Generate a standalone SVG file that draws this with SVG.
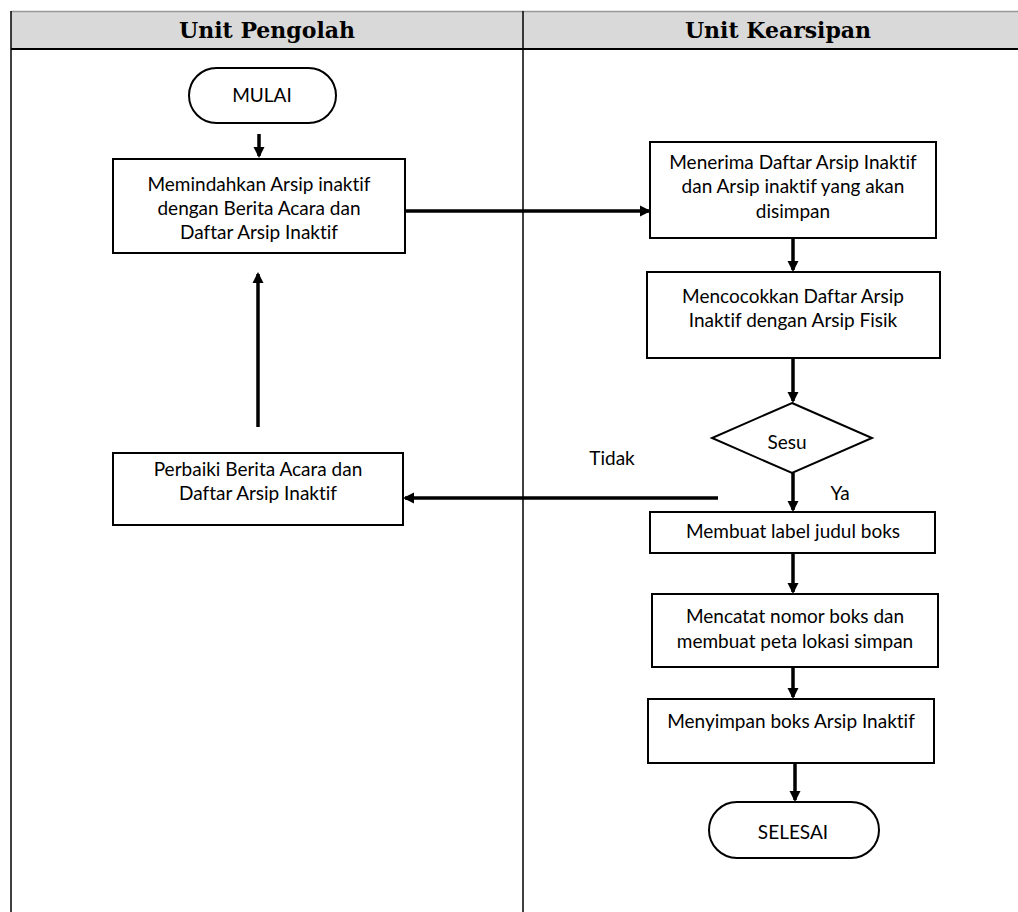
<svg xmlns="http://www.w3.org/2000/svg" width="1018" height="912" viewBox="0 0 1018 912">
<style>
.hdr{font-family:"DejaVu Serif","Liberation Serif",serif;font-weight:bold;font-size:22px;fill:#000;text-anchor:middle}
.t{font-family:Lato,"Liberation Sans",sans-serif;font-size:19px;fill:#000;text-anchor:middle;font-variant-ligatures:none}
.box{fill:#fff;stroke:#000;stroke-width:2}
.c{fill:none;stroke:#000;stroke-width:3.5}
</style>
<defs>
<marker id="ah" markerWidth="12" markerHeight="12" refX="9" refY="6" orient="auto" markerUnits="userSpaceOnUse">
<path d="M0,0.5 L11,6 L0,11.5 Z" fill="#000"/>
</marker>
</defs>
<rect width="1018" height="912" fill="#fff"/>
<g id="table">
<rect x="11" y="11" width="1020" height="38" fill="#d9d9d9"/>
<line x1="11" y1="11.5" x2="1018" y2="11.5" stroke="#999" stroke-width="1.5"/>
<line x1="11" y1="49" x2="1018" y2="49" stroke="#000" stroke-width="2"/>
<line x1="11" y1="11" x2="11" y2="912" stroke="#000" stroke-width="1.5"/>
<line x1="523" y1="11" x2="523" y2="912" stroke="#000" stroke-width="1.5"/>
<text class="hdr" x="267" y="38">Unit Pengolah</text>
<text class="hdr" x="778" y="38">Unit Kearsipan</text>
</g>
<g id="connectors">
<line class="c" x1="259" y1="134" x2="259" y2="156" marker-end="url(#ah)"/>
<line class="c" x1="405" y1="211" x2="649" y2="211" marker-end="url(#ah)"/>
<line class="c" x1="793" y1="238" x2="793" y2="270" marker-end="url(#ah)"/>
<line class="c" x1="793" y1="358" x2="793" y2="401" marker-end="url(#ah)"/>
<line class="c" x1="793" y1="473" x2="793" y2="510" marker-end="url(#ah)"/>
<line class="c" x1="718" y1="498" x2="405" y2="498" marker-end="url(#ah)"/>
<line class="c" x1="258" y1="427" x2="258" y2="274" marker-end="url(#ah)"/>
<line class="c" x1="793" y1="553" x2="793" y2="592" marker-end="url(#ah)"/>
<line class="c" x1="793" y1="667" x2="793" y2="697" marker-end="url(#ah)"/>
<line class="c" x1="795" y1="763" x2="795" y2="800" marker-end="url(#ah)"/>
<text class="t" x="612" y="465">Tidak</text>
<text class="t" x="840" y="500">Ya</text>
</g>
<g id="mulai">
<rect class="box" x="189" y="68" width="147" height="55" rx="27.5"/>
<text class="t" x="262" y="102">MULAI</text>
</g>
<g id="memindahkan">
<rect class="box" x="113" y="159" width="292" height="94"/>
<text class="t" x="259" y="191">Memindahkan Arsip inaktif</text>
<text class="t" x="259" y="215">dengan Berita Acara dan</text>
<text class="t" x="259" y="239">Daftar Arsip Inaktif</text>
</g>
<g id="menerima">
<rect class="box" x="650" y="142" width="286" height="96"/>
<text class="t" x="793" y="169">Menerima Daftar Arsip Inaktif</text>
<text class="t" x="793" y="193">dan Arsip inaktif yang akan</text>
<text class="t" x="793" y="218">disimpan</text>
</g>
<g id="mencocokkan">
<rect class="box" x="647" y="272" width="293" height="86"/>
<text class="t" x="793" y="303">Mencocokkan Daftar Arsip</text>
<text class="t" x="793" y="327">Inaktif dengan Arsip Fisik</text>
</g>
<g id="sesuai">
<polygon class="box" points="792,403 872,438 792,473 712,438"/>
<text class="t" x="787" y="449">Sesu</text>
</g>
<g id="perbaiki">
<rect class="box" x="113" y="453" width="290" height="72"/>
<text class="t" x="258" y="476">Perbaiki Berita Acara dan</text>
<text class="t" x="258" y="500">Daftar Arsip Inaktif</text>
</g>
<g id="label">
<rect class="box" x="650" y="512" width="285" height="41"/>
<text class="t" x="793" y="538">Membuat label judul boks</text>
</g>
<g id="mencatat">
<rect class="box" x="652" y="594" width="286" height="73"/>
<text class="t" x="795" y="623">Mencatat nomor boks dan</text>
<text class="t" x="795" y="648">membuat peta lokasi simpan</text>
</g>
<g id="menyimpan">
<rect class="box" x="648" y="699" width="286" height="64"/>
<text class="t" x="791" y="728">Menyimpan boks Arsip Inaktif</text>
</g>
<g id="selesai">
<rect class="box" x="709" y="802" width="170" height="56" rx="28"/>
<text class="t" x="793" y="839">SELESAI</text>
</g>
</svg>
